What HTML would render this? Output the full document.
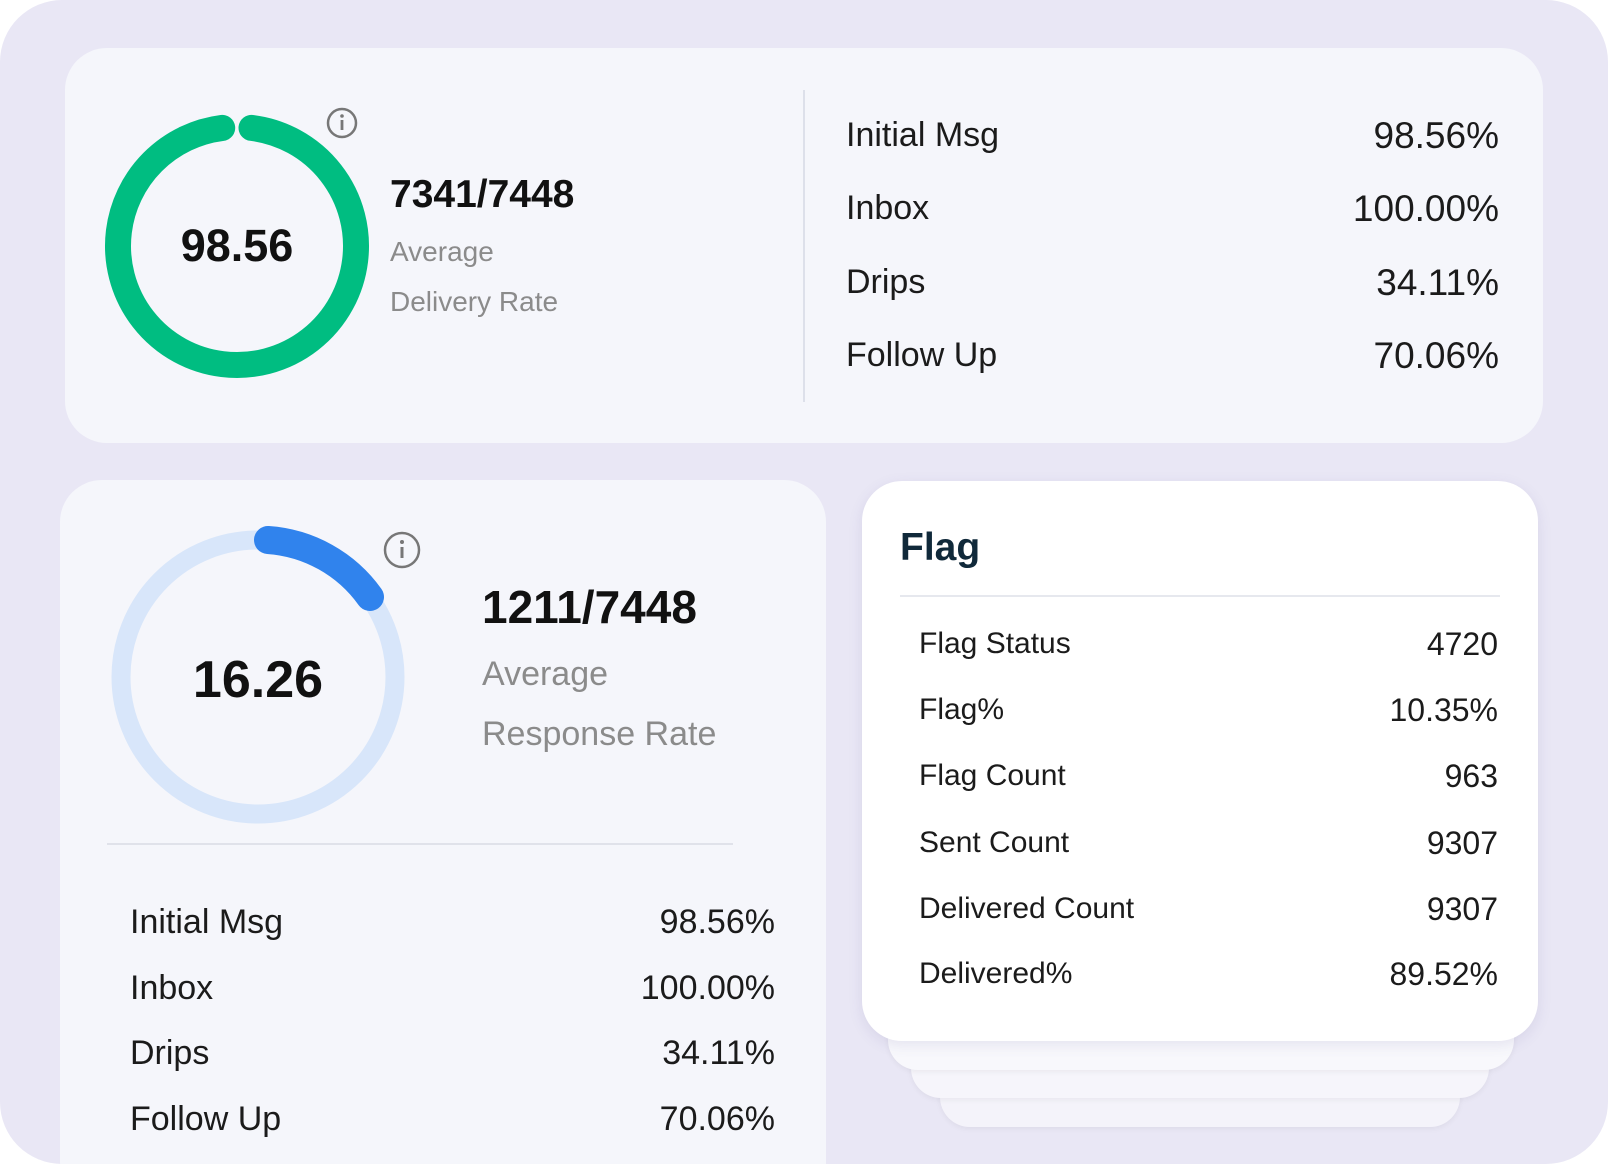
<!DOCTYPE html>
<html><head><meta charset="utf-8"><style>
*{margin:0;padding:0;box-sizing:border-box}
html,body{width:1608px;height:1164px;overflow:hidden}
body{background:#fff;font-family:"Liberation Sans",sans-serif;position:relative}
.a{position:absolute}
.bg{left:0;top:0;width:1608px;height:1164px;background:#e9e7f5;border-radius:62px;overflow:hidden}
.card{background:#f5f6fb;border-radius:42px}
.t{position:absolute;white-space:nowrap;line-height:1}
.lab{color:#1b1b1b}
.r{text-align:right}
</style></head><body>
<div class="a bg">
<div class="a card" style="left:65px;top:48px;width:1478px;height:395px"></div>
<div class="a card" style="left:60px;top:480px;width:766px;height:684px;border-radius:42px 42px 0 0"></div>
<div class="a" style="left:940px;top:1040px;width:520px;height:87px;background:#f4f3fa;border-radius:30px;box-shadow:0 2px 6px rgba(0,0,0,.05)"></div>
<div class="a" style="left:911px;top:1020px;width:578px;height:78px;background:#f6f5fb;border-radius:30px;box-shadow:0 2px 6px rgba(0,0,0,.05)"></div>
<div class="a" style="left:888px;top:1000px;width:626px;height:70px;background:#f8f8fc;border-radius:30px;box-shadow:0 2px 6px rgba(0,0,0,.05)"></div>
<div class="a" style="left:862px;top:481px;width:676px;height:560px;background:#fff;border-radius:40px;box-shadow:0 4px 14px rgba(90,80,150,.12)"></div>
</div>

<svg class="a" style="left:0;top:0" width="1608" height="1164">
 <circle cx="237" cy="246" r="119" fill="none" stroke="#00bd81" stroke-width="26" stroke-linecap="round" stroke-dasharray="718 30" transform="rotate(-83 237 246)"/>
 <circle cx="342" cy="123" r="14" fill="none" stroke="#777" stroke-width="2.5"/>
 <circle cx="342" cy="116" r="1.8" fill="#777"/><rect x="340.6" y="120" width="2.8" height="10" fill="#777"/>
 <line x1="804" y1="90" x2="804" y2="402" stroke="#dde0ea" stroke-width="2"/>
 <circle cx="258" cy="677" r="137" fill="none" stroke="#d8e6fa" stroke-width="19"/>
 <path d="M 268 540 A 137 137 0 0 1 370 597" fill="none" stroke="#3083ed" stroke-width="28" stroke-linecap="round"/>
 <circle cx="402" cy="550" r="17" fill="none" stroke="#777" stroke-width="2.5"/>
 <circle cx="402" cy="542" r="2" fill="#777"/><rect x="400.5" y="547" width="3" height="11" fill="#777"/>
 <line x1="107" y1="844" x2="733" y2="844" stroke="#e0e2ea" stroke-width="2"/>
 <line x1="900" y1="596" x2="1500" y2="596" stroke="#e6e8ee" stroke-width="2"/>
</svg>

<div class="t" style="left:137px;top:223px;width:200px;text-align:center;font-size:45px;font-weight:bold;color:#111">98.56</div>
<div class="t" style="left:390px;top:175px;font-size:39px;font-weight:bold;color:#111">7341/7448</div>
<div class="t" style="left:390px;top:238px;font-size:28px;color:#8b8b8b">Average</div>
<div class="t" style="left:390px;top:288px;font-size:28px;color:#8b8b8b">Delivery Rate</div>

<div class="t lab" style="left:846px;top:118px;font-size:34px">Initial Msg</div>
<div class="t lab" style="left:846px;top:191px;font-size:34px">Inbox</div>
<div class="t lab" style="left:846px;top:265px;font-size:34px">Drips</div>
<div class="t lab" style="left:846px;top:338px;font-size:34px">Follow Up</div>
<div class="t lab r" style="right:109px;top:117px;font-size:37px">98.56%</div>
<div class="t lab r" style="right:109px;top:190px;font-size:37px">100.00%</div>
<div class="t lab r" style="right:109px;top:264px;font-size:37px">34.11%</div>
<div class="t lab r" style="right:109px;top:337px;font-size:37px">70.06%</div>

<div class="t" style="left:158px;top:654px;width:200px;text-align:center;font-size:52px;font-weight:bold;color:#111">16.26</div>
<div class="t" style="left:482px;top:584px;font-size:46px;font-weight:bold;color:#111">1211/7448</div>
<div class="t" style="left:482px;top:657px;font-size:34px;color:#8b8b8b">Average</div>
<div class="t" style="left:482px;top:717px;font-size:34px;color:#8b8b8b">Response Rate</div>

<div class="t lab" style="left:130px;top:905px;font-size:34px">Initial Msg</div>
<div class="t lab" style="left:130px;top:971px;font-size:34px">Inbox</div>
<div class="t lab" style="left:130px;top:1036px;font-size:34px">Drips</div>
<div class="t lab" style="left:130px;top:1102px;font-size:34px">Follow Up</div>
<div class="t lab r" style="right:833px;top:905px;font-size:34px">98.56%</div>
<div class="t lab r" style="right:833px;top:971px;font-size:34px">100.00%</div>
<div class="t lab r" style="right:833px;top:1036px;font-size:34px">34.11%</div>
<div class="t lab r" style="right:833px;top:1102px;font-size:34px">70.06%</div>

<div class="t" style="left:900px;top:528px;font-size:39px;font-weight:bold;color:#10293a">Flag</div>
<div class="t lab" style="left:919px;top:629px;font-size:30px">Flag Status</div>
<div class="t lab" style="left:919px;top:695px;font-size:30px">Flag%</div>
<div class="t lab" style="left:919px;top:761px;font-size:30px">Flag Count</div>
<div class="t lab" style="left:919px;top:828px;font-size:30px">Sent Count</div>
<div class="t lab" style="left:919px;top:894px;font-size:30px">Delivered Count</div>
<div class="t lab" style="left:919px;top:959px;font-size:30px">Delivered%</div>
<div class="t lab r" style="right:110px;top:628px;font-size:32px">4720</div>
<div class="t lab r" style="right:110px;top:694px;font-size:32px">10.35%</div>
<div class="t lab r" style="right:110px;top:760px;font-size:32px">963</div>
<div class="t lab r" style="right:110px;top:827px;font-size:32px">9307</div>
<div class="t lab r" style="right:110px;top:893px;font-size:32px">9307</div>
<div class="t lab r" style="right:110px;top:958px;font-size:32px">89.52%</div>
</body></html>
